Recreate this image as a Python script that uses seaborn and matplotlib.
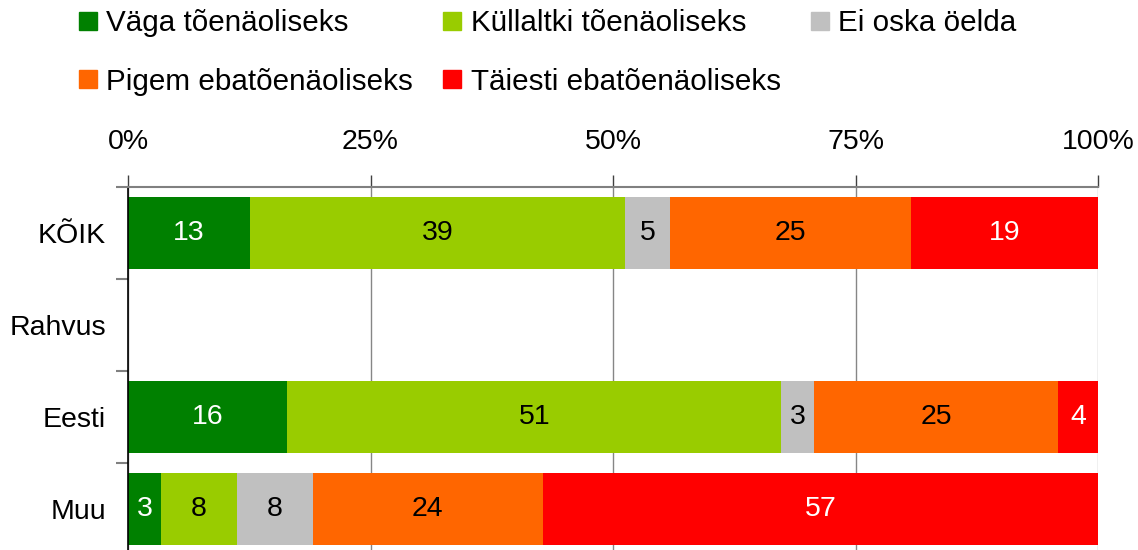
import matplotlib
matplotlib.use('Agg')
import matplotlib.pyplot as plt
from matplotlib.lines import Line2D
import seaborn as sns
import pandas as pd
import numpy as np

# Data
groups = ['KÕIK', 'Rahvus', 'Eesti', 'Muu']
data_groups = ['KÕIK', 'Eesti', 'Muu']
series = ['Väga tõenäoliseks', 'Küllaltki tõenäoliseks', 'Ei oska öelda',
          'Pigem ebatõenäoliseks', 'Täiesti ebatõenäoliseks']
vaga = [12.6, 16.4, 3.4]
kullaltki = [38.6, 50.8, 7.8]
ei_oska = [4.7, 3.4, 7.8]
pigem = [24.8, 25.1, 23.7]
taiesti = [19.3, 4.1, 57.1]
x_ticks = [0, 25, 50, 75, 100]

colors = ['#008000', '#99CC00', '#C0C0C0', '#FF6600', '#FF0000']
text_colors = ['white', 'black', 'black', 'black', 'white']

df = pd.DataFrame({'group': data_groups, series[0]: vaga, series[1]: kullaltki,
                   series[2]: ei_oska, series[3]: pigem, series[4]: taiesti})
pct = df[series].div(df[series].sum(axis=1), axis=0) * 100
cum = pct.cumsum(axis=1)

sns.set_style('white', {'text.color': 'black', 'xtick.color': 'black',
                        'ytick.color': 'black'})
plt.rcParams['font.family'] = ['Liberation Sans', 'DejaVu Sans']

fig = plt.figure(figsize=(11.38, 5.5), dpi=100)
ax = fig.add_axes([128 / 1138, 1 - 555 / 550, 970 / 1138, 368 / 550])

# stacked bars: draw cumulative totals from the last series backwards
for i in reversed(range(len(series))):
    sns.barplot(x=cum[series[i]], y=df['group'], order=groups, orient='h',
                color=colors[i], saturation=1, width=0.78, errorbar=None,
                edgecolor='none', linewidth=0, ax=ax)

# segment labels
for r, g in enumerate(data_groups):
    yi = groups.index(g)
    left = 0
    for i, s in enumerate(series):
        w = pct.loc[r, s]
        ax.text(left + w / 2, yi, f"{df.loc[r, s]:.0f}", ha='center', va='center',
                fontsize=20.5, color=text_colors[i])
        left += w

ax.set_xlim(0, 100)
ax.set_ylim(3.5, -0.5)
ax.set_xlabel('')
ax.set_ylabel('')

ax.xaxis.tick_top()
ax.set_xticks(x_ticks)
ax.set_xticklabels([f"{t}%" for t in x_ticks])
ax.tick_params(axis='x', which='major', length=9, width=1, color='#404040',
               labelcolor='black', pad=14, labelsize=20.5, top=True, bottom=False)

ax.set_yticks(range(len(groups)))
ax.set_yticklabels(groups)
ax.tick_params(axis='y', which='major', length=0, pad=16, labelsize=20.5,
               labelcolor='black')
ax.set_yticks(np.arange(-0.5, len(groups), 1), minor=True)
ax.tick_params(axis='y', which='minor', length=9, width=1.5, color='#808080', left=True)

ax.set_axisbelow(True)
ax.xaxis.grid(True, color='#868686', linewidth=1)
ax.get_xgridlines()[-1].set_color('#b4b4b4')

for side in ['right', 'bottom']:
    ax.spines[side].set_visible(False)
ax.spines['top'].set_color('#808080')
ax.spines['top'].set_linewidth(1.5)
ax.spines['left'].set_color('black')
ax.spines['left'].set_linewidth(1.2)

# legend, row-wise order in 3 columns
handles = [Line2D([], [], marker='s', linestyle='none', markersize=13,
                  color=c) for c in colors]
order = [0, 3, 1, 4, 2]
fig.legend([handles[k] for k in order], [series[k] for k in order],
           loc='upper left', bbox_to_anchor=(78 / 1138, 1 - 9 / 550), ncol=3,
           frameon=False, fontsize=21.3, handlelength=0.65, handletextpad=0.3,
           columnspacing=1.0, labelspacing=1.04, borderpad=0, borderaxespad=0)

fig.savefig('out.png', dpi=100)
